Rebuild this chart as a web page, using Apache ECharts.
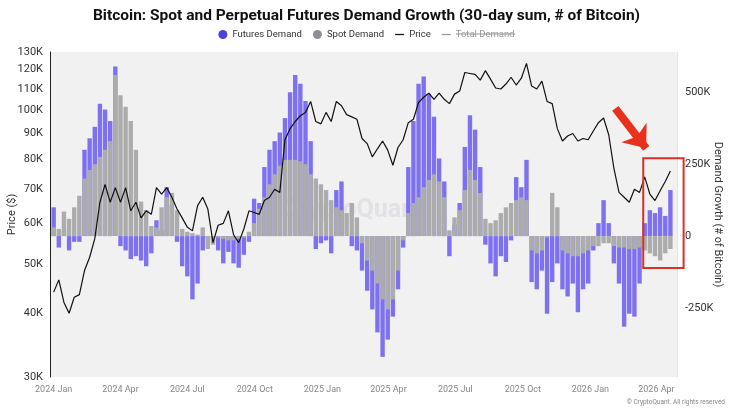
<!DOCTYPE html>
<html>
<head>
<meta charset="utf-8">
<script src="https://cdn.jsdelivr.net/npm/echarts@6/dist/echarts.min.js"></script>
<style>
  html, body { margin: 0; padding: 0; background: #fff; }
  #main { width: 733px; height: 410px; }
</style>
</head>
<body>
<div id="main"></div>
<script>
// weekly samples, first week starts Mon 2024-01-01
var weekStart = [2024, 0, 1];

// 30-day futures demand, thousands of BTC
var futures = [
  100, -40, 20, -50, -20, -20, 300, 340, 380, 460, 440, 400, 590, -35, -50, -80,
  -70, -85, -105, -60, 55, 20, 170, 110, -20, -105, -140, -220, -165, -50, -10, -5,
  -50, -95, -55, -95, -110, -65, -20, 130, 115, 240, 300, 330, 360, 410, 500, 560,
  530, 470, 330, -45, -25, -15, -60, 160, 190, 0, -35, -50, -120, -190, -255, -335,
  -420, -360, -280, -185, -40, 240, 400, 530, 555, 495, 415, 270, 190, -70, 40, 115,
  310, 420, 370, 240, -30, -95, -140, -70, -90, -15, 205, 170, 265, -160, -185, -120,
  -270, -160, -95, -185, -210, -165, -265, -185, -165, -50, 45, 125, 45, -95, -165, -315,
  -270, -280, -165, 45, 90, 80, 100, 70, 160
];

// 30-day spot demand, thousands of BTC
var spot = [
  30, 25, 85, 60, 100, 140, 200, 230, 250, 275, 300, 330, 560, 490, 450, 400,
  300, 120, 90, 35, 30, 100, 135, 150, 90, 25, 15, 10, 5, 30, -45, -30,
  -5, -10, -15, -15, -10, -5, 15, 45, 95, 135, 180, 215, 245, 265, 265, 265,
  260, 250, 215, 200, 180, 160, 125, 100, 90, 80, 115, 65, -25, -85, -120, -165,
  -220, -255, -220, -120, -15, 80, 115, 135, 170, 195, 215, 190, 135, 20, 65, 90,
  160, 230, 195, 150, 60, 45, 55, 80, 100, 115, 125, 135, 125, -50, -60, -50,
  -5, 150, 100, -50, -60, -70, -70, -60, -50, -35, -35, -25, -25, -35, -40, -40,
  -45, -45, -40, -50, -60, -70, -85, -60, -45
];

// BTC price, thousands of USD
var price = [
  44, 46.5, 42, 40, 43, 43.5, 48.5, 51.5, 56, 66, 71.5, 66, 70.5, 66, 70.5, 63.5,
  66, 61.5, 63.5, 62.5, 70.5, 68.5, 70.5, 67.5, 64, 61.5, 59, 58, 65, 67.5, 64, 55,
  59.5, 60, 63.5, 57, 55, 58.5, 63.5, 63, 62.5, 66.5, 67.5, 70, 69, 87.5, 92, 95,
  97.5, 99, 104, 95, 94, 99, 95, 104, 102, 98, 97, 96, 88, 86, 81, 84,
  87, 83.5, 78, 84.5, 87.5, 94.5, 96, 103.5, 106, 108, 105, 108, 105, 103, 107.5, 109,
  118.5, 118, 117.5, 114.5, 119.5, 115, 110.5, 110, 112.5, 116, 112, 115.5, 123.5, 111.5, 110, 114,
  104, 103, 92, 87, 89, 90, 87, 88, 87.5, 91, 94.5, 96.5, 89.5, 77, 69, 67.5,
  66, 70, 69, 74, 68.5, 66.5, 69.5, 72.5, 76
];

var xTicks = ['2024-01-01', '2024-04-01', '2024-07-01', '2024-10-01', '2025-01-01', '2025-04-01',
  '2025-07-01', '2025-10-01', '2026-01-01', '2026-04-01'];
var priceTicks = [30000, 40000, 50000, 60000, 70000, 80000, 90000, 100000, 110000, 120000, 130000];
var demandTicks = [-250000, 0, 250000, 500000];
var monthNames = ['Jan', 'Feb', 'Mar', 'Apr', 'May', 'Jun', 'Jul', 'Aug', 'Sep', 'Oct', 'Nov', 'Dec'];

// red highlight box + arrow (data space: date, demand)
var boxRange = [['2026-03-14', 271000], ['2026-05-08', -111000]];
var arrowRange = [['2026-02-04', 444000], ['2026-03-18', 305000]];

function toTime(s) {
	var p = s.split('-');
	return new Date(+p[0], +p[1] - 1, +p[2]).getTime();
}

var dates = price.map(function(v, i) {
	return new Date(weekStart[0], weekStart[1], weekStart[2] + 7 * i).getTime();
});
function pairs(arr, k) {
	return arr.map(function(v, i) { return [dates[i], v * k]; });
}

var chart = echarts.init(document.getElementById('main'));
var lineIcon = 'path://M0,0h10v1.4h-10z';
var font = 'Roboto, "Noto Sans", sans-serif';

chart.setOption({
	animation: false,
	textStyle: { fontFamily: font },
	title: {
		text: 'Bitcoin: Spot and Perpetual Futures Demand Growth (30-day sum, # of Bitcoin)',
		left: 'center',
		top: 3,
		textStyle: { fontSize: 15.5, fontWeight: 'bold', color: '#111', fontFamily: font }
	},
	legend: {
		top: 24.5,
		left: 'center',
		itemWidth: 9,
		itemHeight: 9,
		itemGap: 11,
		textStyle: { fontSize: 9.5, color: '#333', fontFamily: font },
		inactiveColor: '#999',
		selected: { 'Total Demand': false },
		data: [
			{ name: 'Futures Demand', icon: 'circle', itemStyle: { color: '#4b3fe0' } },
			{ name: 'Spot Demand', icon: 'circle', itemStyle: { color: '#8e8e98' } },
			{ name: 'Price', icon: lineIcon, itemStyle: { color: '#111' } },
			{ name: 'Total Demand', icon: lineIcon }
		]
	},
	grid: {
		left: 50, right: 56, top: 52, bottom: 33,
		outerBoundsMode: 'none',
		containLabel: false,
		show: true, backgroundColor: '#f1f1f1', borderWidth: 0
	},
	xAxis: {
		type: 'value',
		min: toTime('2023-12-27'),
		max: toTime('2026-04-29'),
		axisLine: { show: false },
		axisTick: { show: false },
		splitLine: { show: false },
		axisLabel: {
			customValues: xTicks.map(toTime),
			formatter: function(v) {
				var d = new Date(v);
				return d.getFullYear() + ' ' + monthNames[d.getMonth()];
			},
			fontSize: 9, color: '#888', margin: 8, hideOverlap: false
		}
	},
	yAxis: [{
		type: 'log',
		logBase: 10,
		min: 30000,
		max: 130000,
		position: 'left',
		name: 'Price ($)',
		nameLocation: 'middle',
		nameMoveOverlap: false,
		nameGap: 32,
		nameTextStyle: { fontSize: 11, color: '#333' },
		axisLine: { show: true, lineStyle: { color: '#222', width: 1 } },
		axisTick: { show: false },
		splitLine: { show: false },
		axisLabel: {
			customValues: priceTicks,
			formatter: function(v) { return Math.round(v / 1000) + 'K'; },
			fontSize: 11, color: '#333', margin: 7
		}
	}, {
		type: 'value',
		min: -490000,
		max: 640000,
		position: 'right',
		name: 'Demand Growth (# of Bitcoin)',
		nameLocation: 'middle',
		nameMoveOverlap: false,
		nameRotate: -90,
		nameGap: 35,
		nameTextStyle: { fontSize: 11, color: '#333' },
		axisLine: { show: true, lineStyle: { color: '#e4e4e4', width: 1 } },
		axisTick: { show: false },
		splitLine: { show: false },
		axisLabel: {
			customValues: demandTicks,
			formatter: function(v) { return v === 0 ? '0' : (v / 1000) + 'K'; },
			fontSize: 11, color: '#333', margin: 8
		}
	}],
	graphic: [{
		type: 'text',
		left: 282, top: 198,
		silent: true,
		style: { text: 'CryptoQuant', fontSize: 25, fontWeight: 'bold', fontFamily: font, fill: 'rgba(170,170,190,0.22)' }
	}, {
		type: 'text',
		right: 8, bottom: 4,
		silent: true,
		style: { text: '\u00a9 CryptoQuant. All rights reserved', fontSize: 6.5, fontFamily: font, fill: '#888' }
	}, {
		type: 'line',
		id: 'strike',
		silent: true,
		shape: { x1: 456, y1: 34, x2: 515, y2: 34 },
		style: { stroke: '#999', lineWidth: 1 }
	}],
	series: [{
		name: 'Futures Demand',
		type: 'bar',
		yAxisIndex: 1,
		barWidth: 4.4,
		barGap: '-100%',
		itemStyle: { color: '#7d71f0' },
		data: pairs(futures, 1000)
	}, {
		name: 'Spot Demand',
		type: 'bar',
		yAxisIndex: 1,
		barWidth: 4.4,
		barGap: '-100%',
		itemStyle: { color: '#acacac' },
		data: pairs(spot, 1000),
		markLine: {
			silent: true,
			symbol: ['none', 'arrow'],
			symbolSize: [24, 20],
			label: { show: false },
			lineStyle: { color: '#e8301c', width: 8, type: 'solid', opacity: 1 },
			data: [[
				{ coord: [toTime(arrowRange[0][0]), arrowRange[0][1]] },
				{ coord: [toTime(arrowRange[1][0]), arrowRange[1][1]] }
			]]
		}
	}, {
		name: 'Price',
		type: 'line',
		yAxisIndex: 0,
		showSymbol: false,
		z: 5,
		lineStyle: { color: '#111', width: 1.2 },
		itemStyle: { color: '#111' },
		data: pairs(price, 1000)
	}, {
		name: 'Total Demand',
		type: 'line',
		yAxisIndex: 1,
		showSymbol: false,
		itemStyle: { color: '#999' },
		data: []
	}]
});

// highlight box may run past the plot edge, so place it through the axes
var p0 = chart.convertToPixel({ xAxisIndex: 0, yAxisIndex: 1 }, [toTime(boxRange[0][0]), boxRange[0][1]]);
var p1 = chart.convertToPixel({ xAxisIndex: 0, yAxisIndex: 1 }, [toTime(boxRange[1][0]), boxRange[1][1]]);
chart.setOption({
	graphic: [{
		type: 'rect',
		id: 'box',
		silent: true,
		z: 10,
		shape: { x: p0[0], y: p0[1], width: p1[0] - p0[0], height: p1[1] - p0[1] },
		style: { fill: 'none', stroke: '#d7312a', lineWidth: 2 }
	}]
});
</script>
</body>
</html>
